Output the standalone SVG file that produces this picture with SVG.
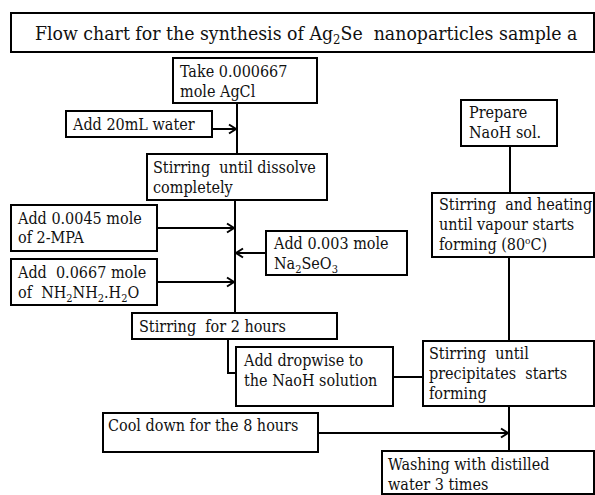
<svg xmlns="http://www.w3.org/2000/svg" width="595" height="495" viewBox="0 0 595 495">
<style>
text{font-family:'DejaVu Serif Condensed','DejaVu Serif',serif;font-stretch:condensed;font-size:16px;fill:#111}
.title{font-size:19.3px}
.box{fill:#fff;stroke:#000;stroke-width:2}
.ln{fill:none;stroke:#000;stroke-width:2}
.arr{marker-end:url(#ah)}
</style>
<defs>
<marker id="ah" markerWidth="12" markerHeight="12" refX="9" refY="6" orient="auto" markerUnits="userSpaceOnUse">
<path d="M2,1.5 L9,6 L2,10.5" fill="none" stroke="#000" stroke-width="2"/>
</marker>
</defs>
<rect width="595" height="495" fill="#fff"/>

<g id="connectors">
<path class="ln" d="M237,103 V154"/>
<path class="ln arr" d="M212,129 H236"/>
<path class="ln" d="M235,200 V313"/>
<path class="ln arr" d="M157,228 H234"/>
<path class="ln arr" d="M157,282 H234"/>
<path class="ln arr" d="M266,253 H236"/>
<path class="ln" d="M228,339 V373 H236"/>
<path class="ln" d="M393,377 H423"/>
<path class="ln" d="M510,146 V193"/>
<path class="ln" d="M509,257 V341"/>
<path class="ln" d="M509,406 V451"/>
<path class="ln arr" d="M318,433 H508"/>
</g>

<g id="title">
<rect class="box" x="11" y="13" width="583" height="39"/>
<text class="title" x="35" y="40" xml:space="preserve">Flow chart for the synthesis of Ag<tspan font-size="13" dy="4">2</tspan><tspan dy="-4">Se  nanoparticles sample a</tspan></text>
</g>

<g id="take">
<rect class="box" x="173" y="58" width="144" height="45"/>
<text x="180" y="77">Take 0.000667</text>
<text x="180" y="97">mole AgCl</text>
</g>

<g id="water">
<rect class="box" x="66" y="111" width="146" height="26"/>
<text x="73" y="130">Add 20mL water</text>
</g>

<g id="dissolve">
<rect class="box" x="147" y="154" width="180" height="46"/>
<text x="153" y="173" xml:space="preserve">Stirring  until dissolve</text>
<text x="153" y="193">completely</text>
</g>

<g id="mpa">
<rect class="box" x="11" y="205" width="146" height="46"/>
<text x="18" y="224">Add 0.0045 mole</text>
<text x="18" y="243">of 2-MPA</text>
</g>

<g id="hydrazine">
<rect class="box" x="11" y="259" width="146" height="46"/>
<text x="18" y="278" xml:space="preserve">Add  0.0667 mole</text>
<text x="18" y="298" xml:space="preserve">of  NH<tspan font-size="11" dy="4">2</tspan><tspan dy="-4">NH</tspan><tspan font-size="11" dy="4">2</tspan><tspan dy="-4">.H</tspan><tspan font-size="11" dy="4">2</tspan><tspan dy="-4">O</tspan></text>
</g>

<g id="selenite">
<rect class="box" x="266" y="231" width="141" height="44"/>
<text x="274" y="249">Add 0.003 mole</text>
<text x="274" y="269">Na<tspan font-size="11" dy="4">2</tspan><tspan dy="-4">SeO</tspan><tspan font-size="11" dy="4">3</tspan></text>
</g>

<g id="stir2h">
<rect class="box" x="132" y="313" width="205" height="26"/>
<text x="139" y="332" xml:space="preserve">Stirring  for 2 hours</text>
</g>

<g id="dropwise">
<rect class="box" x="236" y="347" width="157" height="59"/>
<text x="244" y="366">Add dropwise to</text>
<text x="244" y="386">the NaoH solution</text>
</g>

<g id="prepare">
<rect class="box" x="461" y="100" width="96" height="46"/>
<text x="469" y="118">Prepare</text>
<text x="469" y="138">NaoH sol.</text>
</g>

<g id="heating">
<rect class="box" x="432" y="193" width="162" height="64"/>
<text x="439" y="210" xml:space="preserve">Stirring  and heating</text>
<text x="439" y="230">until vapour starts</text>
<text x="439" y="250">forming (80<tspan font-size="10" dy="-6">o</tspan><tspan dy="6">C)</tspan></text>
</g>

<g id="precipitates">
<rect class="box" x="423" y="341" width="171" height="65"/>
<text x="429" y="359" xml:space="preserve">Stirring  until</text>
<text x="429" y="379" xml:space="preserve">precipitates  starts</text>
<text x="429" y="399">forming</text>
</g>

<g id="cool">
<rect class="box" x="103" y="413" width="215" height="39"/>
<text x="108" y="431">Cool down for the 8 hours</text>
</g>

<g id="washing">
<rect class="box" x="382" y="451" width="212" height="43"/>
<text x="388" y="470">Washing with distilled</text>
<text x="388" y="490">water 3 times</text>
</g>
</svg>
